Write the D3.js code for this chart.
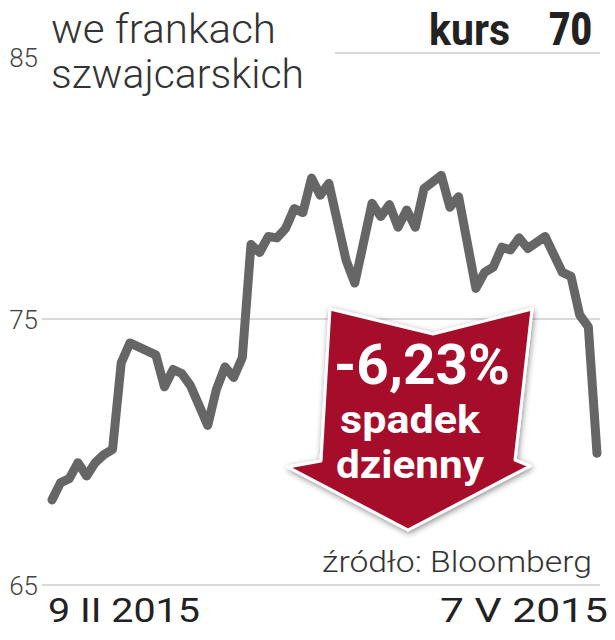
<!DOCTYPE html>
<meta charset="UTF-8">
<script src="https://d3js.org/d3.v7.min.js"></script>
<style>
  body { margin: 0; background: #fff; }
  text { font-family: Roboto, "Noto Sans", sans-serif; }
</style>
<svg id="chart" width="615" height="640"></svg>
<script>
// kurs w frankach szwajcarskich, 9 II - 7 V 2015 (sesje od poczatku okresu)
var days   = [0, 1, 2, 3, 4, 5, 6, 7, 8, 9, 12, 13, 14, 15, 16, 18, 19, 20, 21, 22,
              23, 24, 25, 26, 27, 28, 29, 30, 31, 32, 34, 35, 37, 38, 39, 40, 41, 42, 43, 44,
              45, 46, 47, 49, 50, 51, 52, 53, 54, 55, 57, 59, 60, 61, 62, 63];
var values = [68.2, 68.85, 69.0, 69.6, 69.1, 69.6, 69.9, 70.1, 73.35, 74.1, 73.65, 72.45, 73.1, 72.95, 72.5, 71.0, 72.35, 73.2, 72.8, 73.55,
              77.8, 77.5, 78.1, 78.05, 78.4, 79.15, 79.0, 80.3, 79.65, 80.1, 77.2, 76.35, 79.35, 78.85, 79.3, 78.45, 79.1, 78.45, 79.9, 80.15,
              80.4, 79.2, 79.6, 76.15, 76.75, 76.95, 77.7, 77.6, 78.05, 77.65, 78.1, 76.75, 76.6, 75.15, 74.7, 69.95];
var yTicks = [65, 75, 85];
var dateLabels = ["9 II 2015", "7 V 2015"];
var title = ["we frankach", "szwajcarskich"];
var lastRate = "70";
var change = "-6,23%";
var changeLabel = ["spadek", "dzienny"];
var source = "źródło: Bloomberg";

var svg = d3.select("#chart");

var x = d3.scaleLinear().domain([0, 63]).range([52, 597]);
var y = d3.scaleLinear().domain([65, 85]).range([585, 53]);

// siatka
svg.append("g")
  .selectAll("line")
  .data(yTicks)
  .enter().append("line")
    .attr("x1", function(d) { return d == 85 ? 335 : 42; })
    .attr("x2", 600)
    .attr("y1", function(d) { return y(d); })
    .attr("y2", function(d) { return y(d); })
    .attr("stroke", "#cccccc")
    .attr("stroke-width", 1.5);

// os Y - same etykiety
var yAxis = svg.append("g")
  .attr("transform", "translate(38,0)")
  .call(d3.axisLeft(y).tickValues(yTicks).tickSize(0).tickPadding(0));
yAxis.select(".domain").remove();
yAxis.selectAll("text")
  .attr("dy", "0.35em")
  .style("font-family", "Roboto")
  .style("font-weight", 300)
  .style("font-size", "26px")
  .attr("fill", "#444");
yAxis.selectAll("text").filter(function(d) { return d == 85; }).attr("dy", "0.5em");

// daty
svg.append("text")
  .attr("x", x(0) - 4).attr("y", 622)
  .attr("textLength", 152).attr("lengthAdjust", "spacingAndGlyphs")
  .style("font-size", "33px").attr("fill", "#222")
  .text(dateLabels[0]);
svg.append("text")
  .attr("x", 608).attr("y", 622)
  .attr("text-anchor", "end")
  .attr("textLength", 168).attr("lengthAdjust", "spacingAndGlyphs")
  .style("font-size", "33px").attr("fill", "#222")
  .text(dateLabels[1]);

// linia kursu
var line = d3.line()
  .x(function(d, i) { return x(days[i]); })
  .y(function(d) { return y(d); });

svg.append("path")
  .datum(values)
  .attr("d", line)
  .attr("fill", "none")
  .attr("stroke", "#666")
  .attr("stroke-width", 9)
  .attr("stroke-linejoin", "round")
  .attr("stroke-linecap", "round");

// tytul
svg.selectAll(".title")
  .data(title)
  .enter().append("text")
    .attr("class", "title")
    .attr("x", 51)
    .attr("y", function(d, i) { return 43 + i * 45; })
    .attr("textLength", function(d, i) { return i == 0 ? 225 : 253; })
    .attr("lengthAdjust", "spacingAndGlyphs")
    .style("font-weight", 300)
    .style("font-size", "41px")
    .attr("fill", "#333")
    .text(function(d) { return d; });

svg.append("text")
  .attr("x", 429).attr("y", 45)
  .attr("textLength", 81).attr("lengthAdjust", "spacingAndGlyphs")
  .style("font-weight", 700).style("font-size", "44px").attr("fill", "#222")
  .text("kurs");
svg.append("text")
  .attr("x", 549).attr("y", 45)
  .attr("textLength", 43).attr("lengthAdjust", "spacingAndGlyphs")
  .style("font-weight", 900).style("font-size", "46px").attr("fill", "#222")
  .text(lastRate);

// strzalka
var defs = svg.append("defs");
var f = defs.append("filter").attr("id", "shadow").attr("x", "-20%").attr("y", "-20%").attr("width", "140%").attr("height", "140%");
f.append("feGaussianBlur").attr("in", "SourceAlpha").attr("stdDeviation", 3);
f.append("feOffset").attr("dx", 1).attr("dy", 2).attr("result", "b");
f.append("feComponentTransfer").append("feFuncA").attr("type", "linear").attr("slope", 0.45);
var m = f.append("feMerge");
m.append("feMergeNode");
m.append("feMergeNode").attr("in", "SourceGraphic");

var arrow = [[330, 309], [433, 334], [532, 309], [515, 460], [530, 466], [408, 530], [288, 467], [321, 461]];
svg.append("polygon")
  .attr("points", arrow.map(function(p) { return p.join(","); }).join(" "))
  .attr("fill", "#a50f2b")
  .attr("stroke", "#fff")
  .attr("stroke-width", 3)
  .attr("stroke-linejoin", "round")
  .attr("filter", "url(#shadow)");

svg.append("text")
  .attr("x", 422).attr("y", 384)
  .attr("text-anchor", "middle")
  .attr("textLength", 176).attr("lengthAdjust", "spacingAndGlyphs")
  .style("font-weight", 700).style("font-size", "56px").attr("fill", "#fff")
  .text(change);
svg.selectAll(".lbl")
  .data(changeLabel)
  .enter().append("text")
    .attr("class", "lbl")
    .attr("x", 410)
    .attr("y", function(d, i) { return 433 + i * 45; })
    .attr("text-anchor", "middle")
    .attr("textLength", function(d, i) { return i == 0 ? 140 : 148; })
    .attr("lengthAdjust", "spacingAndGlyphs")
    .style("font-weight", 700).style("font-size", "38px").attr("fill", "#fff")
    .text(function(d) { return d; });

// zrodlo
svg.append("text")
  .attr("x", 592).attr("y", 572)
  .attr("text-anchor", "end")
  .attr("textLength", 270).attr("lengthAdjust", "spacingAndGlyphs")
  .style("font-weight", 300).style("font-size", "30px").attr("fill", "#333")
  .text(source);
</script>
